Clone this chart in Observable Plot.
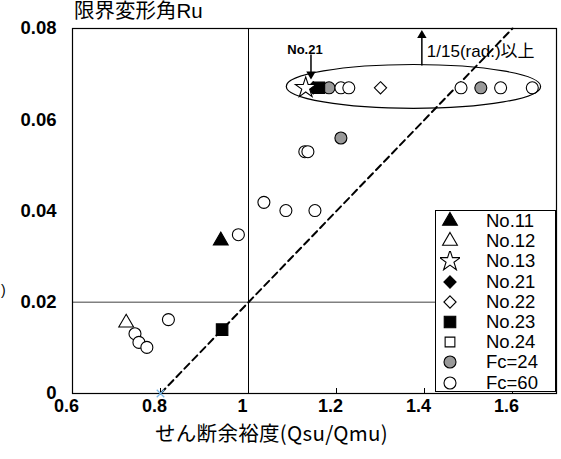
<!DOCTYPE html>
<html><head><meta charset="utf-8">
<script src="https://cdn.jsdelivr.net/npm/d3@7"></script>
<script src="https://cdn.jsdelivr.net/npm/@observablehq/plot@0.6"></script>
<style>
body{margin:0;background:#fff;}
#wrap{position:relative;width:561px;height:459px;overflow:hidden;font-family:"Liberation Sans","Noto Sans CJK JP",sans-serif;}
.abs{position:absolute;white-space:nowrap;color:#000;}
#legend{position:absolute;left:435px;top:210px;width:121px;height:182px;border:1px solid #000;background:#fff;box-sizing:border-box;}
.lrow{position:absolute;left:0;height:20px;width:120px;}
.lrow svg{position:absolute;left:4px;top:0;}
.lrow span{position:absolute;left:50px;top:0;font-size:18.5px;line-height:20px;}
</style></head><body><div id="wrap"></div>
<script>
// ---- data ----
const xTicks = [0.6, 0.8, 1, 1.2, 1.4, 1.6];
const xTickLabels = ["0.6", "0.8", "1", "1.2", "1.4", "1.6"];
const yTicks = [0, 0.02, 0.04, 0.06, 0.08];
const yTickLabels = ["0", "0.02", "0.04", "0.06", "0.08"];
const seriesNames = ["No.11","No.12","No.13","No.21","No.22","No.23","No.24","Fc=24","Fc=60"];
const pointSeries = [
  "No.11","No.12","No.13","No.21","No.22","No.23","No.23",
  "Fc=24","Fc=24","Fc=24",
  "Fc=60","Fc=60","Fc=60","Fc=60","Fc=60","Fc=60","Fc=60","Fc=60","Fc=60","Fc=60","Fc=60","Fc=60","Fc=60","Fc=60","Fc=60"
];
const pointX = [
  0.937, 0.722, 1.130, 1.147, 1.300, 0.940, 1.160,
  1.183, 1.210, 1.528,
  0.742, 0.751, 0.769, 0.818, 0.977, 1.035, 1.085, 1.151, 1.128, 1.135, 1.210, 1.228, 1.483, 1.573, 1.645
];
const pointY = [
  0.0335, 0.0155, 0.067, 0.067, 0.067, 0.014, 0.067,
  0.067, 0.0560, 0.067,
  0.0131, 0.0112, 0.0101, 0.0162, 0.0348, 0.0419, 0.0401, 0.0401, 0.0530, 0.0530, 0.067, 0.067, 0.067, 0.067, 0.067
];
const refX = [1];
const refY = [0.02];
const dashX = [0.8, 1.6];
const dashY = [0, 0.08];
const crossX = [0.8];
const crossY = [0];
const ellipseCenter = [1.376, 0.0672];
const ellipseRadius = [0.289, 0.0048];
const arrow21 = {x: 1.142, y1: 0.0743, y2: 0.0700, label: "No.21"};
const arrowUp = {x: 1.394, y1: 0.0719, y2: 0.0785, label: "1/15(rad.)以上"};
const titleText = "限界変形角Ru";
const xLabelText = "せん断余裕度(Qsu/Qmu)";

// ---- styles ----
const styles = {
  "No.11": {symbol: "triangle", fill: "#000", r: 5.5},
  "No.12": {symbol: "triangle", fill: "#fff", r: 5.5},
  "No.13": {symbol: "star", fill: "#fff", r: 6.5},
  "No.21": {symbol: "diamond2", fill: "#000", r: 5.5},
  "No.22": {symbol: "diamond2", fill: "#fff", r: 5.5},
  "No.23": {symbol: "square", fill: "#000", r: 6.5},
  "No.24": {symbol: "square", fill: "#fff", r: 5.5},
  "Fc=24": {symbol: "circle", fill: "#999", r: 6},
  "Fc=60": {symbol: "circle", fill: "#fff", r: 6}
};
const drawOrder = ["Fc=24","Fc=60","No.11","No.12","No.22","No.24","No.23","No.21","No.13"];
const rows = pointX.map((x, i) => ({x, y: pointY[i], s: pointSeries[i]}));

const font = '"Liberation Sans","Noto Sans CJK JP",sans-serif';
const dotMarks = drawOrder.map(s => Plot.dot(rows.filter(d => d.s === s), {
  x: "x", y: "y", symbol: () => styles[s].symbol, r: styles[s].r,
  fill: styles[s].fill, stroke: "#000", strokeWidth: 1.1
}));

const plot = Plot.plot({
  width: 561, height: 459,
  marginLeft: 72, marginRight: 5, marginTop: 28, marginBottom: 66,
  x: {domain: [0.6, 1.7]},
  y: {domain: [0, 0.08]},
  symbol: {type: "identity"},
  style: {fontFamily: font, background: "white", overflow: "visible"},
  marks: [
    Plot.ruleY(refY, {stroke: "#808080", strokeWidth: 1.5}),
    Plot.ruleX(refX, {stroke: "#000", strokeWidth: 1}),
    Plot.axisX(xTicks, {tickSize: -5, tickPadding: 11, tickFormat: d => xTickLabels[xTicks.indexOf(d)], fontSize: 18, fontWeight: "bold", label: null, stroke: "#000"}),
    Plot.axisY(yTicks, {tickSize: 0, tickPadding: 16, tickFormat: d => yTickLabels[yTicks.indexOf(d)], fontSize: 18.5, fontWeight: "bold", label: null}),
    Plot.frame({stroke: "#000", strokeWidth: 1.2}),
    Plot.line(dashX.map((x, i) => ({x, y: dashY[i]})), {x: "x", y: "y", stroke: "#000", strokeWidth: 2, strokeDasharray: "7,4.5", clip: false}),
    Plot.dot(crossX.map((x, i) => ({x, y: crossY[i]})), {x: "x", y: "y", symbol: "times", r: 3.5, stroke: "#7ab8e8", strokeWidth: 1.3}),
    ...dotMarks,
    // No.21 arrow
    Plot.link([arrow21], {x1: "x", x2: "x", y1: "y1", y2: "y2", stroke: "#000", strokeWidth: 1.5}),
    Plot.dot([arrow21], {x: "x", y: "y2", symbol: "triangle", r: 3.5, fill: "#000", rotate: 180}),
    Plot.text([arrow21], {x: "x", y: "y1", text: "label", fontSize: 13, fontWeight: "bold", lineAnchor: "bottom", dy: -1, dx: -6, fill: "#000"}),
    // 1/15 arrow
    Plot.link([arrowUp], {x1: "x", x2: "x", y1: "y1", y2: "y2", stroke: "#000", strokeWidth: 1.5}),
    Plot.dot([arrowUp], {x: "x", y: "y2", symbol: "triangle", r: 3.5, fill: "#000"}),
    Plot.text([arrowUp], {x: "x", y: d => (d.y1 + d.y2) / 2, text: "label", fontSize: 17, textAnchor: "start", dx: 5, dy: 1, fill: "#000"})
  ]
});

// shift x tick labels slightly left like the reference
d3.select(plot).select("g[aria-label='x-axis tick label']").attr("transform", function() {
  const t = this.getAttribute("transform") || "";
  return t + " translate(-6,0)";
});

// ellipse via plot scales
const sx = plot.scale("x"), sy = plot.scale("y");
const svg = d3.select(plot);
const cxp = sx.apply(ellipseCenter[0]), cyp = sy.apply(ellipseCenter[1]);
const rxp = sx.apply(ellipseCenter[0] + ellipseRadius[0]) - cxp;
const ryp = cyp - sy.apply(ellipseCenter[1] + ellipseRadius[1]);
svg.append("ellipse").attr("cx", cxp).attr("cy", cyp).attr("rx", rxp).attr("ry", ryp)
  .attr("fill", "none").attr("stroke", "#000").attr("stroke-width", 1.2);

const wrap = document.getElementById("wrap");
wrap.appendChild(plot);

// title and x-axis label
const t = document.createElement("div");
t.className = "abs"; t.textContent = titleText;
t.style.cssText = "left:74px;top:-1px;font-size:20.5px;line-height:24px;";
wrap.appendChild(t);
const xl = document.createElement("div");
xl.className = "abs"; xl.textContent = xLabelText;
xl.style.cssText = "left:155px;top:422px;font-size:20.5px;line-height:21px;font-family:'Noto Sans CJK JP',sans-serif;letter-spacing:0.3px;";
wrap.appendChild(xl);
const cut = document.createElement("div");
cut.className = "abs"; cut.textContent = ")";
cut.style.cssText = "left:1px;top:282px;font-size:14px;line-height:16px;";
wrap.appendChild(cut);

// legend
const lg = document.createElement("div");
lg.id = "legend";
const symMap = {triangle: d3.symbolTriangle, star: d3.symbolStar, diamond2: d3.symbolDiamond2, square: d3.symbolSquare, circle: d3.symbolCircle};
seriesNames.forEach((s, i) => {
  const row = document.createElement("div");
  row.className = "lrow";
  row.style.top = (i * 20.2) + "px";
  const st = styles[s];
  const path = d3.symbol(symMap[st.symbol], Math.PI * st.r * st.r)();
  row.innerHTML = `<svg width="20" height="20"><path transform="translate(10,10)" d="${path}" fill="${st.fill}" stroke="#000" stroke-width="1.1"/></svg><span>${s}</span>`;
  lg.appendChild(row);
});
wrap.appendChild(lg);
</script></body></html>
